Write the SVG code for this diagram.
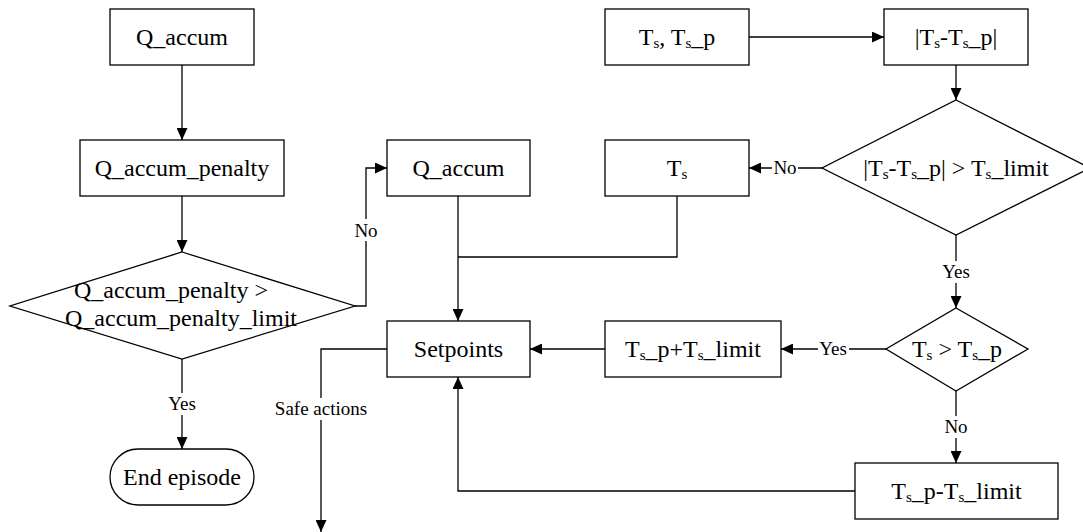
<svg xmlns="http://www.w3.org/2000/svg" width="1083" height="532" viewBox="0 0 1083 532">
<style>
.box{fill:#fff;stroke:#000;stroke-width:1.3}
.t{font-family:'Liberation Serif','DejaVu Serif',serif;font-size:24px;fill:#000;text-anchor:middle}
.l{font-family:'Liberation Serif','DejaVu Serif',serif;font-size:19px;fill:#000;text-anchor:middle}
.c{fill:none;stroke:#000;stroke-width:1.3}
.sub{font-size:15px}
.bg{fill:#fff}
</style>
<defs>
<marker id="ah" markerUnits="userSpaceOnUse" markerWidth="12" markerHeight="11" refX="12" refY="5.5" orient="auto">
<path d="M0,0 L12,5.5 L0,11 z" fill="#000"/>
</marker>
</defs>
<rect width="1083" height="532" fill="#fff"/>
<g id="connectors" font-family="Liberation Serif, DejaVu Serif, serif">
<path class="c" d="M182,65 V140" marker-end="url(#ah)"/>
<path class="c" d="M182,196 V252" marker-end="url(#ah)"/>
<path class="c" d="M182,359 V449" marker-end="url(#ah)"/>
<path class="c" d="M355,306 H366 V168 H387" marker-end="url(#ah)"/>
<path class="c" d="M749,37 H884" marker-end="url(#ah)"/>
<path class="c" d="M956,65 V100" marker-end="url(#ah)"/>
<path class="c" d="M822,168 H749" marker-end="url(#ah)"/>
<path class="c" d="M956,235 V308" marker-end="url(#ah)"/>
<path class="c" d="M886,349 H781" marker-end="url(#ah)"/>
<path class="c" d="M956,391 V463" marker-end="url(#ah)"/>
<path class="c" d="M458,196 V321" marker-end="url(#ah)"/>
<path class="c" d="M677,196 V257 H458"/>
<path class="c" d="M605,349 H530" marker-end="url(#ah)"/>
<path class="c" d="M855,491 H458 V377" marker-end="url(#ah)"/>
<path class="c" d="M387,349 H321 V532" marker-end="url(#ah)"/>
<rect class="bg" x="351" y="219" width="30" height="22"/>
<text class="l" x="366" y="237">No</text>
<rect class="bg" x="166" y="393" width="32" height="22"/>
<text class="l" x="182" y="410">Yes</text>
<rect class="bg" x="271" y="398" width="100" height="22"/>
<text class="l" x="321" y="415">Safe actions</text>
<rect class="bg" x="772" y="157" width="26" height="22"/>
<text class="l" x="785" y="174">No</text>
<rect class="bg" x="818" y="338" width="31" height="22"/>
<text class="l" x="833" y="355">Yes</text>
<rect class="bg" x="940" y="261" width="32" height="22"/>
<text class="l" x="956" y="278">Yes</text>
<rect class="bg" x="943" y="416" width="26" height="22"/>
<text class="l" x="956" y="433">No</text>
</g>
<g id="q_accum_top">
<rect class="box" x="110" y="9" width="144" height="56"/>
<text class="t" x="182" y="45">Q_accum</text>
</g>
<g id="q_accum_penalty">
<rect class="box" x="80" y="140" width="204" height="56"/>
<text class="t" x="182" y="176">Q_accum_penalty</text>
</g>
<g id="penalty_decision">
<polygon class="box" points="182,252 355,306 182,359 10,306"/>
<text class="t" x="171" y="298">Q_accum_penalty &gt;</text>
<text class="t" x="181" y="326">Q_accum_penalty_limit</text>
</g>
<g id="end_episode">
<rect class="box" x="110" y="449" width="144" height="56" rx="28" ry="28"/>
<text class="t" x="182" y="485">End episode</text>
</g>
<g id="q_accum_mid">
<rect class="box" x="387" y="140" width="143" height="56"/>
<text class="t" x="458.5" y="176">Q_accum</text>
</g>
<g id="ts_tsp">
<rect class="box" x="605" y="9" width="144" height="56"/>
<text class="t" x="677" y="45">T<tspan class="sub" dy="3">s</tspan><tspan dy="-3">, T</tspan><tspan class="sub" dy="3">s</tspan><tspan dy="-3">_p</tspan></text>
</g>
<g id="abs_diff">
<rect class="box" x="884" y="9" width="144" height="56"/>
<text class="t" x="956" y="45">|T<tspan class="sub" dy="3">s</tspan><tspan dy="-3">-T</tspan><tspan class="sub" dy="3">s</tspan><tspan dy="-3">_p|</tspan></text>
</g>
<g id="limit_decision">
<polygon class="box" points="956,100 1090,168 956,235 822,168"/>
<text class="t" x="956" y="176">|T<tspan class="sub" dy="3">s</tspan><tspan dy="-3">-T</tspan><tspan class="sub" dy="3">s</tspan><tspan dy="-3">_p| &gt; T</tspan><tspan class="sub" dy="3">s</tspan><tspan dy="-3">_limit</tspan></text>
</g>
<g id="ts_box">
<rect class="box" x="605" y="140" width="144" height="56"/>
<text class="t" x="677" y="176">T<tspan class="sub" dy="3">s</tspan></text>
</g>
<g id="setpoints">
<rect class="box" x="387" y="321" width="143" height="56"/>
<text class="t" x="458.5" y="357">Setpoints</text>
</g>
<g id="tsp_plus">
<rect class="box" x="605" y="321" width="176" height="56"/>
<text class="t" x="693" y="357">T<tspan class="sub" dy="3">s</tspan><tspan dy="-3">_p+T</tspan><tspan class="sub" dy="3">s</tspan><tspan dy="-3">_limit</tspan></text>
</g>
<g id="compare_decision">
<polygon class="box" points="956,308 1028,349 956,391 886,349"/>
<text class="t" x="957" y="357">T<tspan class="sub" dy="3">s</tspan><tspan dy="-3"> &gt; T</tspan><tspan class="sub" dy="3">s</tspan><tspan dy="-3">_p</tspan></text>
</g>
<g id="tsp_minus">
<rect class="box" x="855" y="463" width="203" height="56"/>
<text class="t" x="956.5" y="499">T<tspan class="sub" dy="3">s</tspan><tspan dy="-3">_p-T</tspan><tspan class="sub" dy="3">s</tspan><tspan dy="-3">_limit</tspan></text>
</g>
</svg>
